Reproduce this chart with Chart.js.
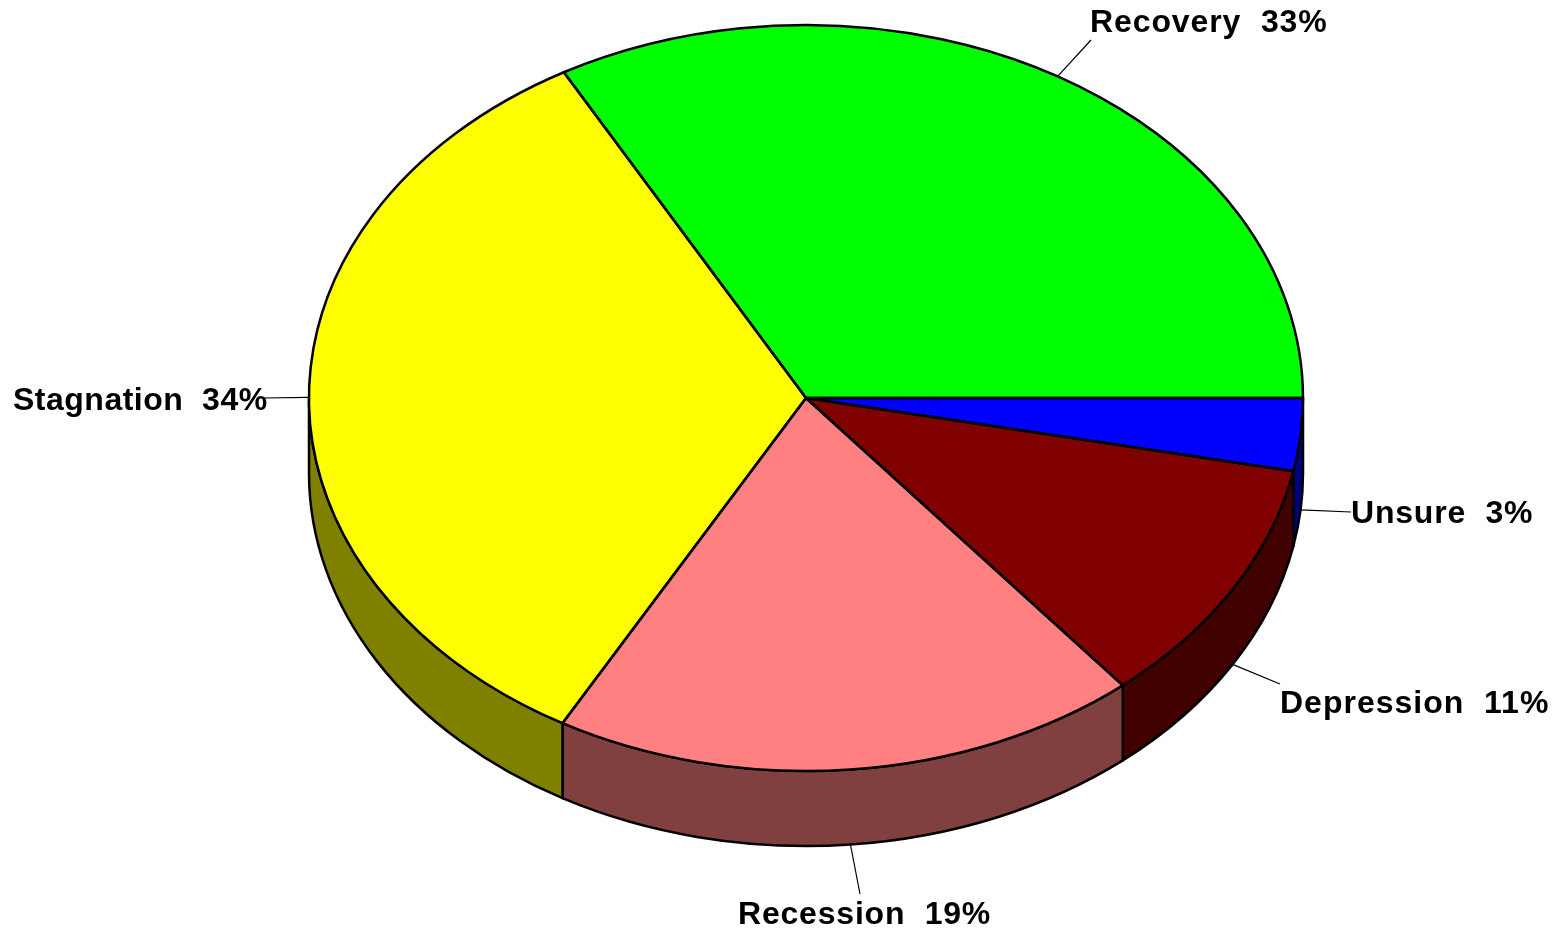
<!DOCTYPE html>
<html>
<head>
<meta charset="utf-8">
<title>Pie</title>
<script src="https://cdn.jsdelivr.net/npm/chart.js@4/dist/chart.umd.min.js"></script>
<style>
html, body { margin: 0; padding: 0; background: #fff; overflow: hidden; }
#wrap { position: relative; width: 1558px; height: 928px; }
</style>
</head>
<body>
<div id="wrap"><canvas id="chart1"></canvas></div>
<script>
var categories = ['Unsure', 'Depression', 'Recession', 'Stagnation', 'Recovery'];
var shares = [3.15, 10.85, 19.15, 33.75, 33.1];
var topColors = ['#0000ff', '#800000', '#ff8080', '#ffff00', '#00ff00'];
var wallColors = ['#000080', '#400000', '#804040', '#808000', '#008000'];

// where each leader stops and its label starts (same order as categories)
var leaderEnds = [[1351, 512], [1280, 684], [860, 894], [263, 398], [1091, 40]];
var labelStarts = [[1351, 523], [1280, 713], [738, 924], [13, 410], [1090, 32]];
var labelSpacing = [0.8, 1, 0.8, 0.5, 0.9];

var stretchX = 497 / 373; // the pie is a circle squashed into an ellipse
var depth = 75;

function ellipsePath(ctx, arc, offsetY, from, to, reverse) {
    ctx.ellipse(arc.x, arc.y + offsetY, arc.outerRadius * stretchX, arc.outerRadius, 0, from, to, reverse);
}

var pie3d = {
    id: 'pie3d',
    beforeDatasetsDraw: function(chart) {
        var ctx = chart.ctx;
        var arcs = chart.getDatasetMeta(0).data;
        ctx.save();
        ctx.lineWidth = 2.5;
        ctx.strokeStyle = '#000';
        ctx.lineJoin = 'round';
        // side wall, only the front half can be seen
        for (var i = 0; i < arcs.length; i++) {
            var from = Math.max(arcs[i].startAngle, 0);
            var to = Math.min(arcs[i].endAngle, Math.PI);
            if (to <= from) continue;
            ctx.beginPath();
            ellipsePath(ctx, arcs[i], 0, from, to, false);
            ellipsePath(ctx, arcs[i], depth, to, from, true);
            ctx.closePath();
            ctx.fillStyle = wallColors[i];
            ctx.fill();
            ctx.stroke();
        }
        ctx.restore();

        // squash the arcs while chart.js fills them
        var c = arcs[0];
        ctx.save();
        ctx.translate(c.x, c.y);
        ctx.scale(stretchX, 1);
        ctx.translate(-c.x, -c.y);
    },
    afterDatasetsDraw: function(chart) {
        var ctx = chart.ctx;
        var arcs = chart.getDatasetMeta(0).data;
        ctx.restore();

        ctx.save();
        ctx.lineWidth = 2.5;
        ctx.strokeStyle = '#000';
        ctx.lineJoin = 'round';
        for (var i = 0; i < arcs.length; i++) {
            ctx.beginPath();
            ctx.moveTo(arcs[i].x, arcs[i].y);
            ellipsePath(ctx, arcs[i], 0, arcs[i].startAngle, arcs[i].endAngle, false);
            ctx.closePath();
            ctx.stroke();
        }

        // leaders and labels
        ctx.fillStyle = '#000';
        ctx.font = 'bold 32px "Liberation Sans"';
        ctx.textBaseline = 'alphabetic';
        ctx.textAlign = 'left';
        for (var j = 0; j < arcs.length; j++) {
            var mid = (arcs[j].startAngle + arcs[j].endAngle) / 2;
            var sx = arcs[j].x + Math.cos(mid) * arcs[j].outerRadius * stretchX;
            var sy = arcs[j].y + Math.sin(mid) * arcs[j].outerRadius;
            if (Math.sin(mid) > 0.01) sy += depth;
            ctx.beginPath();
            ctx.lineWidth = 1.2;
            ctx.strokeStyle = '#000';
            ctx.moveTo(sx, sy);
            ctx.lineTo(leaderEnds[j][0], leaderEnds[j][1]);
            ctx.stroke();
            ctx.letterSpacing = labelSpacing[j] + 'px';
            ctx.fillText(categories[j] + '  ' + Math.round(shares[j]) + '%', labelStarts[j][0], labelStarts[j][1]);
        }
        ctx.restore();
    }
};

var ctx1 = document.getElementById('chart1').getContext('2d');
var chart1 = new Chart(ctx1, {
    type: 'pie',
    data: {
        labels: categories,
        datasets: [{
            data: shares,
            backgroundColor: topColors,
            borderWidth: 0,
            clip: false
        }]
    },
    options: {
        responsive: true,
        maintainAspectRatio: false,
        animation: false,
        rotation: 90,
        events: [],
        layout: { padding: { top: 25, bottom: 157, left: 433, right: 379 } },
        plugins: {
            legend: { display: false },
            title: { display: false },
            tooltip: { enabled: false }
        }
    },
    plugins: [pie3d]
});
</script>
</body>
</html>
